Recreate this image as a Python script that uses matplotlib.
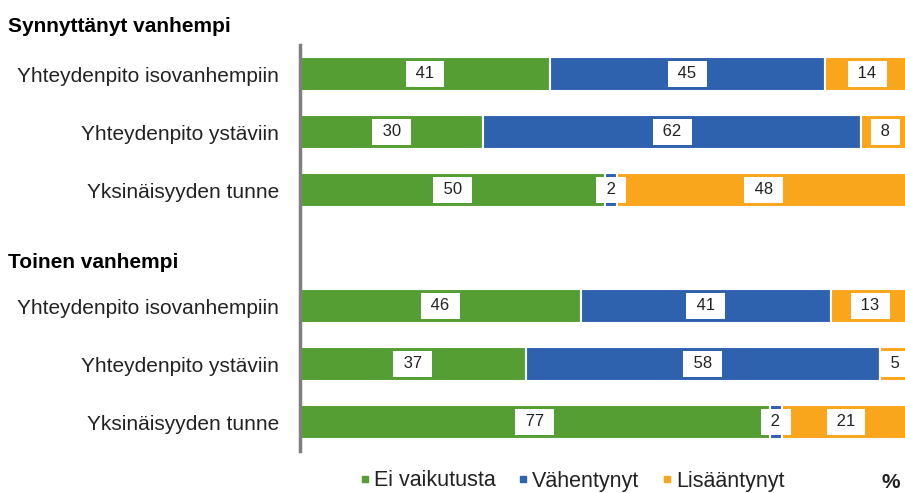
import matplotlib
matplotlib.use("Agg")
import matplotlib.pyplot as plt
from matplotlib.lines import Line2D

plt.rcParams['font.family'] = ['Liberation Sans', 'DejaVu Sans']

groups = ["Synnyttänyt vanhempi", "Toinen vanhempi"]
categories = ["Yhteydenpito isovanhempiin", "Yhteydenpito ystäviin", "Yksinäisyyden tunne"]
series_names = ["Ei vaikutusta", "Vähentynyt", "Lisääntynyt"]
ei_vaikutusta = [41, 30, 50, 46, 37, 77]
vahentynyt = [45, 62, 2, 41, 58, 2]
lisaantynyt = [14, 8, 48, 13, 5, 21]
colors = ["#559E33", "#2E62AE", "#F9A61C"]

W, H = 905, 493
fig = plt.figure(figsize=(W / 100, H / 100), dpi=100)
ax = fig.add_axes([300 / W, 1 - 451 / H, 610 / W, 406 / H])

# slot positions: header at 0, rows 1-3, header at 4, rows 5-7
ypos = [1, 2, 3, 5, 6, 7]
series = [ei_vaikutusta, vahentynyt, lisaantynyt]
left = [0] * len(ypos)
for vals, col in zip(series, colors):
    ax.barh(ypos, vals, left=left, height=0.6, color=col, edgecolor="white", linewidth=1.5)
    for y, l, v in zip(ypos, left, vals):
        ax.text(l + v / 2, y, f" {v} ", ha="center", va="center", fontsize=12, color="#222222",
                bbox=dict(boxstyle="square,pad=0.33", facecolor="white", edgecolor="none"))
    left = [a + b for a, b in zip(left, vals)]

ax.set_xlim(0, 100)
ax.set_ylim(7.5, 0.5)
ax.set_yticks(ypos)
ax.set_yticklabels(categories * 2, fontsize=15, color="#222222")
ax.tick_params(axis="y", length=0, pad=15)
ax.set_xticks([])
for s in ["top", "right", "bottom"]:
    ax.spines[s].set_visible(False)
ax.spines["left"].set_color("#7F7F7F")
ax.spines["left"].set_linewidth(2.5)

fig.text(8 / W, 1 - 27 / H, groups[0], fontsize=15, fontweight="bold", va="center", ha="left")
fig.text(8 / W, 1 - 262 / H, groups[1], fontsize=15, fontweight="bold", va="center", ha="left")

handles = [Line2D([], [], marker="s", linestyle="none", markersize=5, color=c) for c in colors]
fig.legend(handles, series_names, loc="center", bbox_to_anchor=(572 / W, 1 - 481 / H), ncol=3,
           frameon=False, fontsize=15.5, handletextpad=0.15, columnspacing=1.05, handlelength=0.5,
           labelcolor="#222222", borderpad=0.2)
fig.text(891 / W, 1 - 482 / H, "%", fontsize=15, fontweight="bold", va="center", ha="center",
         color="#222222")

fig.savefig("out.png", dpi=100)
